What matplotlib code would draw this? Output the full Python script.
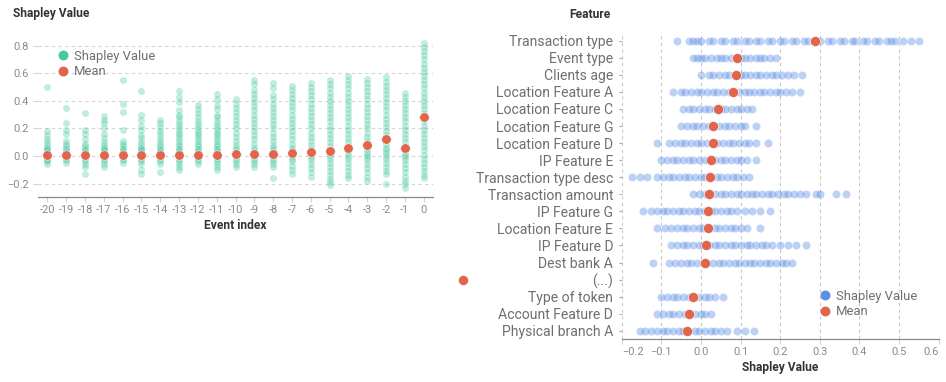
import matplotlib
matplotlib.use("Agg")
import matplotlib.pyplot as plt
from matplotlib.lines import Line2D

plt.rcParams['font.family'] = ['Roboto', 'DejaVu Sans']

# ---------------- data ----------------
event_index = [-20, -19, -18, -17, -16, -15, -14, -13, -12, -11, -10,
               -9, -8, -7, -6, -5, -4, -3, -2, -1, 0]

shap_m20 = [0.50, 0.18, 0.15, 0.12, 0.10, 0.08, 0.06, 0.05, 0.04, 0.03, 0.02, 0.01, 0.0, -0.01, -0.02, -0.03, -0.04, -0.06]
shap_m19 = [0.35, 0.24, 0.19, 0.16, 0.11, 0.09, 0.07, 0.05, 0.04, 0.03, 0.02, 0.01, 0.0, -0.01, -0.02, -0.03, -0.05]
shap_m18 = [0.31, 0.19, 0.16, 0.12, 0.09, 0.07, 0.05, 0.04, 0.03, 0.02, 0.01, 0.0, -0.01, -0.02, -0.04, -0.06, -0.08, -0.13]
shap_m17 = [0.29, 0.26, 0.24, 0.20, 0.16, 0.13, 0.10, 0.08, 0.06, 0.05, 0.04, 0.03, 0.02, 0.01, 0.0, -0.01, -0.02, -0.04, -0.06, -0.08]
shap_m16 = [0.55, 0.38, 0.32, 0.19, 0.11, 0.09, 0.07, 0.05, 0.04, 0.03, 0.02, 0.01, 0.0, -0.01, -0.02, -0.03, -0.05]
shap_m15 = [0.47, 0.30, 0.26, 0.22, 0.19, 0.15, 0.13, 0.10, 0.08, 0.06, 0.05, 0.04, 0.03, 0.02, 0.01, 0.0, -0.01, -0.02, -0.04, -0.06, -0.10, -0.13]
shap_m14 = [0.26, 0.24, 0.21, 0.18, 0.16, 0.13, 0.11, 0.09, 0.07, 0.05, 0.04, 0.03, 0.02, 0.01, 0.0, -0.01, -0.02, -0.04, -0.06, -0.12]
shap_m13 = [0.47, 0.43, 0.39, 0.33, 0.30, 0.28, 0.25, 0.23, 0.21, 0.19, 0.17, 0.15, 0.13, 0.11, 0.09, 0.07, 0.05, 0.04, 0.03, 0.02, 0.01, 0.0, -0.01, -0.02, -0.04, -0.06, -0.08, -0.10]
shap_m12 = [0.37, 0.34, 0.31, 0.28, 0.25, 0.23, 0.21, 0.19, 0.17, 0.15, 0.13, 0.11, 0.09, 0.07, 0.05, 0.04, 0.03, 0.02, 0.01, 0.0, -0.01, -0.02, -0.04, -0.06]
shap_m11 = [0.45, 0.41, 0.37, 0.34, 0.30, 0.28, 0.25, 0.23, 0.21, 0.19, 0.17, 0.15, 0.13, 0.11, 0.09, 0.07, 0.05, 0.04, 0.03, 0.02, 0.01, 0.0, -0.01, -0.02, -0.04, -0.06, -0.08, -0.10]
shap_m10 = [0.41, 0.38, 0.35, 0.32, 0.29, 0.26, 0.23, 0.20, 0.17, 0.14, 0.11, 0.08, 0.06, 0.04, 0.02, 0.0, -0.02, -0.04, -0.06, -0.08]
shap_m9 = [0.55, 0.52, 0.48, 0.45, 0.42, 0.39, 0.36, 0.33, 0.30, 0.27, 0.24, 0.21, 0.18, 0.15, 0.12, 0.09, 0.06, 0.04, 0.02, 0.0, -0.02, -0.04, -0.06, -0.08]
shap_m8 = [0.53, 0.49, 0.44, 0.41, 0.38, 0.35, 0.32, 0.29, 0.26, 0.23, 0.20, 0.17, 0.14, 0.11, 0.08, 0.06, 0.04, 0.02, 0.0, -0.02, -0.04, -0.06, -0.08, -0.16]
shap_m7 = [0.51, 0.48, 0.45, 0.42, 0.39, 0.36, 0.33, 0.30, 0.27, 0.24, 0.21, 0.18, 0.15, 0.12, 0.09, 0.06, 0.04, 0.02, 0.0, -0.02, -0.04, -0.07, -0.10, -0.13]
shap_m6 = [0.53, 0.50, 0.47, 0.44, 0.41, 0.38, 0.35, 0.32, 0.29, 0.26, 0.23, 0.20, 0.17, 0.14, 0.11, 0.08, 0.05, 0.03, 0.01, -0.01, -0.03, -0.06, -0.09, -0.12, -0.15]
shap_m5 = [0.55, 0.52, 0.49, 0.46, 0.43, 0.40, 0.37, 0.34, 0.31, 0.28, 0.25, 0.22, 0.19, 0.16, 0.13, 0.10, 0.07, 0.04, 0.02, 0.0, -0.02, -0.05, -0.08, -0.11, -0.14, -0.17, -0.19, -0.21]
shap_m4 = [0.58, 0.55, 0.52, 0.49, 0.46, 0.43, 0.40, 0.37, 0.34, 0.31, 0.28, 0.25, 0.22, 0.19, 0.16, 0.13, 0.10, 0.07, 0.04, 0.02, 0.0, -0.02, -0.05, -0.08, -0.11, -0.14, -0.16]
shap_m3 = [0.56, 0.53, 0.50, 0.47, 0.44, 0.41, 0.38, 0.35, 0.32, 0.29, 0.26, 0.23, 0.20, 0.17, 0.14, 0.11, 0.08, 0.05, 0.03, 0.01, -0.01, -0.03, -0.06, -0.09, -0.12, -0.15, -0.18]
shap_m2 = [0.57, 0.54, 0.51, 0.48, 0.45, 0.42, 0.39, 0.36, 0.33, 0.30, 0.27, 0.24, 0.21, 0.18, 0.15, 0.12, 0.09, 0.06, 0.04, 0.02, 0.0, -0.02, -0.05, -0.08, -0.11, -0.13, -0.20]
shap_m1 = [0.46, 0.43, 0.40, 0.37, 0.34, 0.31, 0.28, 0.25, 0.22, 0.19, 0.16, 0.13, 0.10, 0.07, 0.05, 0.03, 0.01, -0.01, -0.03, -0.06, -0.09, -0.12, -0.15, -0.18, -0.20, -0.23]
shap_0 = [0.82, 0.79, 0.76, 0.73, 0.70, 0.67, 0.64, 0.61, 0.58, 0.55, 0.52, 0.49, 0.46, 0.43, 0.40, 0.37, 0.34, 0.31, 0.28, 0.25, 0.22, 0.19, 0.16, 0.13, 0.10, 0.07, 0.04, 0.01, -0.02, -0.05, -0.08, -0.11, -0.14, -0.16]

event_shap = [shap_m20, shap_m19, shap_m18, shap_m17, shap_m16, shap_m15, shap_m14,
              shap_m13, shap_m12, shap_m11, shap_m10, shap_m9, shap_m8, shap_m7,
              shap_m6, shap_m5, shap_m4, shap_m3, shap_m2, shap_m1, shap_0]
event_mean = [0.007, 0.007, 0.007, 0.007, 0.007, 0.007, 0.007, 0.008, 0.009, 0.010, 0.012,
              0.015, 0.016, 0.020, 0.028, 0.038, 0.058, 0.080, 0.126, 0.060, 0.285]

features = ["Transaction type", "Event type", "Clients age", "Location Feature A",
            "Location Feature C", "Location Feature G", "Location Feature D",
            "IP Feature E", "Transaction type desc", "Transaction amount",
            "IP Feature G", "Location Feature E", "IP Feature D", "Dest bank A",
            "(...)", "Type of token", "Account Feature D", "Physical branch A"]

feat_shap = [
    [-0.06, -0.03, -0.02, -0.01, 0.0, 0.02, 0.03, 0.05, 0.06, 0.08, 0.09, 0.11, 0.12, 0.14, 0.15, 0.17, 0.18, 0.2, 0.21, 0.23, 0.24, 0.26, 0.27, 0.29, 0.3, 0.32, 0.33, 0.35, 0.36, 0.38, 0.39, 0.41, 0.42, 0.44, 0.45, 0.47, 0.48, 0.49, 0.51, 0.53, 0.55],
    [-0.02, -0.01, 0.0, 0.01, 0.025, 0.04, 0.05, 0.06, 0.075, 0.09, 0.1, 0.11, 0.125, 0.14, 0.15, 0.16, 0.175, 0.19],
    [0.0, 0.02, 0.03, 0.045, 0.06, 0.07, 0.085, 0.1, 0.11, 0.125, 0.14, 0.15, 0.165, 0.18, 0.19, 0.205, 0.22, 0.235, 0.255],
    [-0.07, -0.05, -0.04, -0.025, -0.01, 0.0, 0.015, 0.03, 0.04, 0.055, 0.07, 0.08, 0.095, 0.11, 0.12, 0.135, 0.15, 0.16, 0.175, 0.19, 0.2, 0.215, 0.23, 0.25],
    [-0.045, -0.03, -0.02, -0.005, 0.01, 0.02, 0.035, 0.05, 0.06, 0.075, 0.09, 0.1, 0.115, 0.13],
    [-0.05, -0.035, -0.02, -0.01, 0.005, 0.02, 0.03, 0.045, 0.06, 0.07, 0.085, 0.1, 0.11, 0.14],
    [-0.11, -0.08, -0.065, -0.05, -0.04, -0.025, -0.01, 0.0, 0.015, 0.03, 0.04, 0.055, 0.07, 0.08, 0.095, 0.11, 0.12, 0.14, 0.17],
    [-0.1, -0.085, -0.07, -0.06, -0.045, -0.03, -0.02, -0.005, 0.01, 0.02, 0.035, 0.05, 0.06, 0.075, 0.09, 0.1, 0.115, 0.14],
    [-0.175, -0.155, -0.135, -0.11, -0.095, -0.08, -0.07, -0.055, -0.04, -0.03, -0.015, 0.0, 0.01, 0.025, 0.04, 0.05, 0.065, 0.08, 0.09, 0.105, 0.12],
    [-0.02, -0.005, 0.01, 0.02, 0.035, 0.05, 0.06, 0.075, 0.09, 0.1, 0.115, 0.13, 0.14, 0.155, 0.17, 0.18, 0.195, 0.21, 0.22, 0.235, 0.25, 0.265, 0.29, 0.3, 0.34, 0.365],
    [-0.145, -0.125, -0.11, -0.095, -0.085, -0.07, -0.055, -0.045, -0.03, -0.015, -0.005, 0.01, 0.025, 0.035, 0.05, 0.065, 0.075, 0.09, 0.11, 0.13, 0.15, 0.175],
    [-0.11, -0.09, -0.075, -0.06, -0.045, -0.035, -0.02, -0.005, 0.005, 0.02, 0.035, 0.045, 0.06, 0.075, 0.085, 0.1, 0.115, 0.15],
    [-0.075, -0.06, -0.045, -0.035, -0.02, -0.005, 0.005, 0.02, 0.035, 0.045, 0.06, 0.075, 0.085, 0.1, 0.115, 0.125, 0.14, 0.155, 0.165, 0.18, 0.2, 0.22, 0.24, 0.265],
    [-0.12, -0.08, -0.065, -0.05, -0.035, -0.025, -0.01, 0.005, 0.015, 0.03, 0.045, 0.055, 0.07, 0.085, 0.095, 0.11, 0.125, 0.135, 0.15, 0.165, 0.175, 0.19, 0.205, 0.215, 0.23],
    [],
    [-0.1, -0.085, -0.07, -0.06, -0.045, -0.03, -0.02, -0.005, 0.01, 0.02, 0.035, 0.055],
    [-0.11, -0.095, -0.08, -0.07, -0.055, -0.04, -0.03, -0.015, 0.0, 0.01, 0.025],
    [-0.155, -0.14, -0.125, -0.11, -0.095, -0.085, -0.07, -0.055, -0.045, -0.03, -0.015, -0.005, 0.01, 0.025, 0.035, 0.05, 0.065, 0.09, 0.11, 0.135],
]
feat_mean = [0.287, 0.091, 0.088, 0.080, 0.042, 0.031, 0.031, 0.025, 0.023, 0.020,
             0.018, 0.017, 0.014, 0.010, -0.6, -0.021, -0.029, -0.034]

left_yticks = [-0.2, 0.0, 0.2, 0.4, 0.6, 0.8]
right_xticks = [-0.2, -0.1, 0.0, 0.1, 0.2, 0.3, 0.4, 0.5, 0.6]

# ---------------- style ----------------
TEAL = "#45c9a3"
RED = "#e0654c"
BLUE = "#5b8ee6"
GRID = "#d4d4d4"
TICKC = "#8a8a8a"
LABELC = "#6f6f6f"
TITLEC = "#333333"
W, H = 946, 382
PX = 72 / 100.0  # points per pixel at dpi 100

fig = plt.figure(figsize=(W / 100, H / 100), dpi=100)

def fx(px):
    return px / W

def fy(py):
    return 1 - py / H

# ---------- left chart ----------
l_left, l_right, l_top, l_bot = 38, 433, 31.9, 197.3
axL = fig.add_axes([fx(l_left), fy(l_bot), fx(l_right - l_left), (l_bot - l_top) / H])
for xi, vals in zip(event_index, event_shap):
    axL.scatter([xi] * len(vals), vals, s=(7 * PX) ** 2, color=TEAL, alpha=0.33,
                linewidths=0, zorder=2)
axL.scatter(event_index, event_mean, s=(9.5 * PX) ** 2, color=RED, edgecolors="white",
            linewidths=0.4, zorder=3)
axL.set_xlim(-20.5, 0.5)
axL.set_ylim(-0.3, 0.9)
axL.set_xticks(event_index)
axL.set_xticklabels([str(v) for v in event_index])
axL.set_yticks(left_yticks)
axL.set_yticklabels(["\u22120.2", "0.0", "0.2", "0.4", "0.6", "0.8"])
axL.yaxis.grid(True, color=GRID, linestyle=(0, (3, 3)), linewidth=0.8)
axL.set_axisbelow(True)
for s in ["top", "right", "left"]:
    axL.spines[s].set_visible(False)
axL.spines["bottom"].set_color("#888888")
axL.spines["bottom"].set_linewidth(0.9)
axL.tick_params(axis="x", length=5 * PX, color=GRID, labelsize=11 * PX, labelcolor=TICKC, pad=2)
axL.tick_params(axis="y", length=5 * PX, color=GRID, labelsize=11 * PX, labelcolor=TICKC, pad=3)
axL.set_xlabel("Event index", fontsize=12 * PX, fontweight="bold", color=TITLEC, labelpad=3)
fig.text(fx(12.7), fy(14), "Shapley Value", fontsize=12 * PX, fontweight="bold",
         color=TITLEC, ha="left", va="center")

legL = axL.legend(handles=[
    Line2D([], [], marker="o", linestyle="", markersize=8.5 * PX, color=TEAL, label="Shapley Value"),
    Line2D([], [], marker="o", linestyle="", markersize=8.5 * PX, color=RED, label="Mean")],
    loc="upper left", bbox_to_anchor=(fx(59), fy(50)), bbox_transform=fig.transFigure,
    frameon=False, fontsize=13 * PX, labelcolor=LABELC, handlelength=0.6,
    handletextpad=0.55, labelspacing=0.18, borderpad=0, borderaxespad=0)

# ---------- right chart ----------
r_left, r_right, r_top, r_bot = 621.7, 938.7, 32.2, 339.3
axR = fig.add_axes([fx(r_left), fy(r_bot), fx(r_right - r_left), (r_bot - r_top) / H])
for yi, vals in enumerate(feat_shap):
    if vals:
        axR.scatter(vals, [yi] * len(vals), s=(8 * PX) ** 2, color=BLUE, alpha=0.4,
                    linewidths=0, zorder=2)
axR.scatter(feat_mean, range(len(features)), s=(10 * PX) ** 2, color=RED,
            edgecolors="white", linewidths=0.4, zorder=3, clip_on=False)
axR.set_xlim(-0.2, 0.6)
axR.set_ylim(len(features) - 0.5, -0.5)
axR.set_yticks(range(len(features)))
axR.set_yticklabels(features)
axR.set_xticks(right_xticks)
axR.set_xticklabels(["\u22120.2", "\u22120.1", "0.0", "0.1", "0.2", "0.3", "0.4", "0.5", "0.6"])
axR.xaxis.grid(True, color="#c8c8c8", linestyle=(0, (3, 3)), linewidth=0.8)
axR.set_axisbelow(True)
for s in ["top", "right", "left"]:
    axR.spines[s].set_visible(False)
axR.spines["bottom"].set_color("#888888")
axR.spines["bottom"].set_linewidth(0.9)
axR.tick_params(axis="x", length=5 * PX, color=GRID, labelsize=11 * PX, labelcolor=TICKC, pad=2)
axR.tick_params(axis="y", length=3 * PX, color="#aaaaaa", labelsize=14 * PX, labelcolor=LABELC, pad=4)
xl = axR.get_xticklabels()
xl[0].set_ha("left")
xl[-1].set_ha("right")
axR.set_xlabel("Shapley Value", fontsize=12 * PX, fontweight="bold", color=TITLEC, labelpad=3)
fig.text(fx(610.7), fy(14), "Feature", fontsize=12 * PX, fontweight="bold",
         color=TITLEC, ha="right", va="center")

legR = axR.legend(handles=[
    Line2D([], [], marker="o", linestyle="", markersize=8.5 * PX, color=BLUE, label="Shapley Value"),
    Line2D([], [], marker="o", linestyle="", markersize=8.5 * PX, color=RED, label="Mean")],
    loc="upper left", bbox_to_anchor=(fx(821), fy(290)), bbox_transform=fig.transFigure,
    frameon=False, fontsize=13 * PX, labelcolor=LABELC, handlelength=0.6,
    handletextpad=0.55, labelspacing=0.18, borderpad=0, borderaxespad=0)

fig.savefig("out.png", dpi=100)
